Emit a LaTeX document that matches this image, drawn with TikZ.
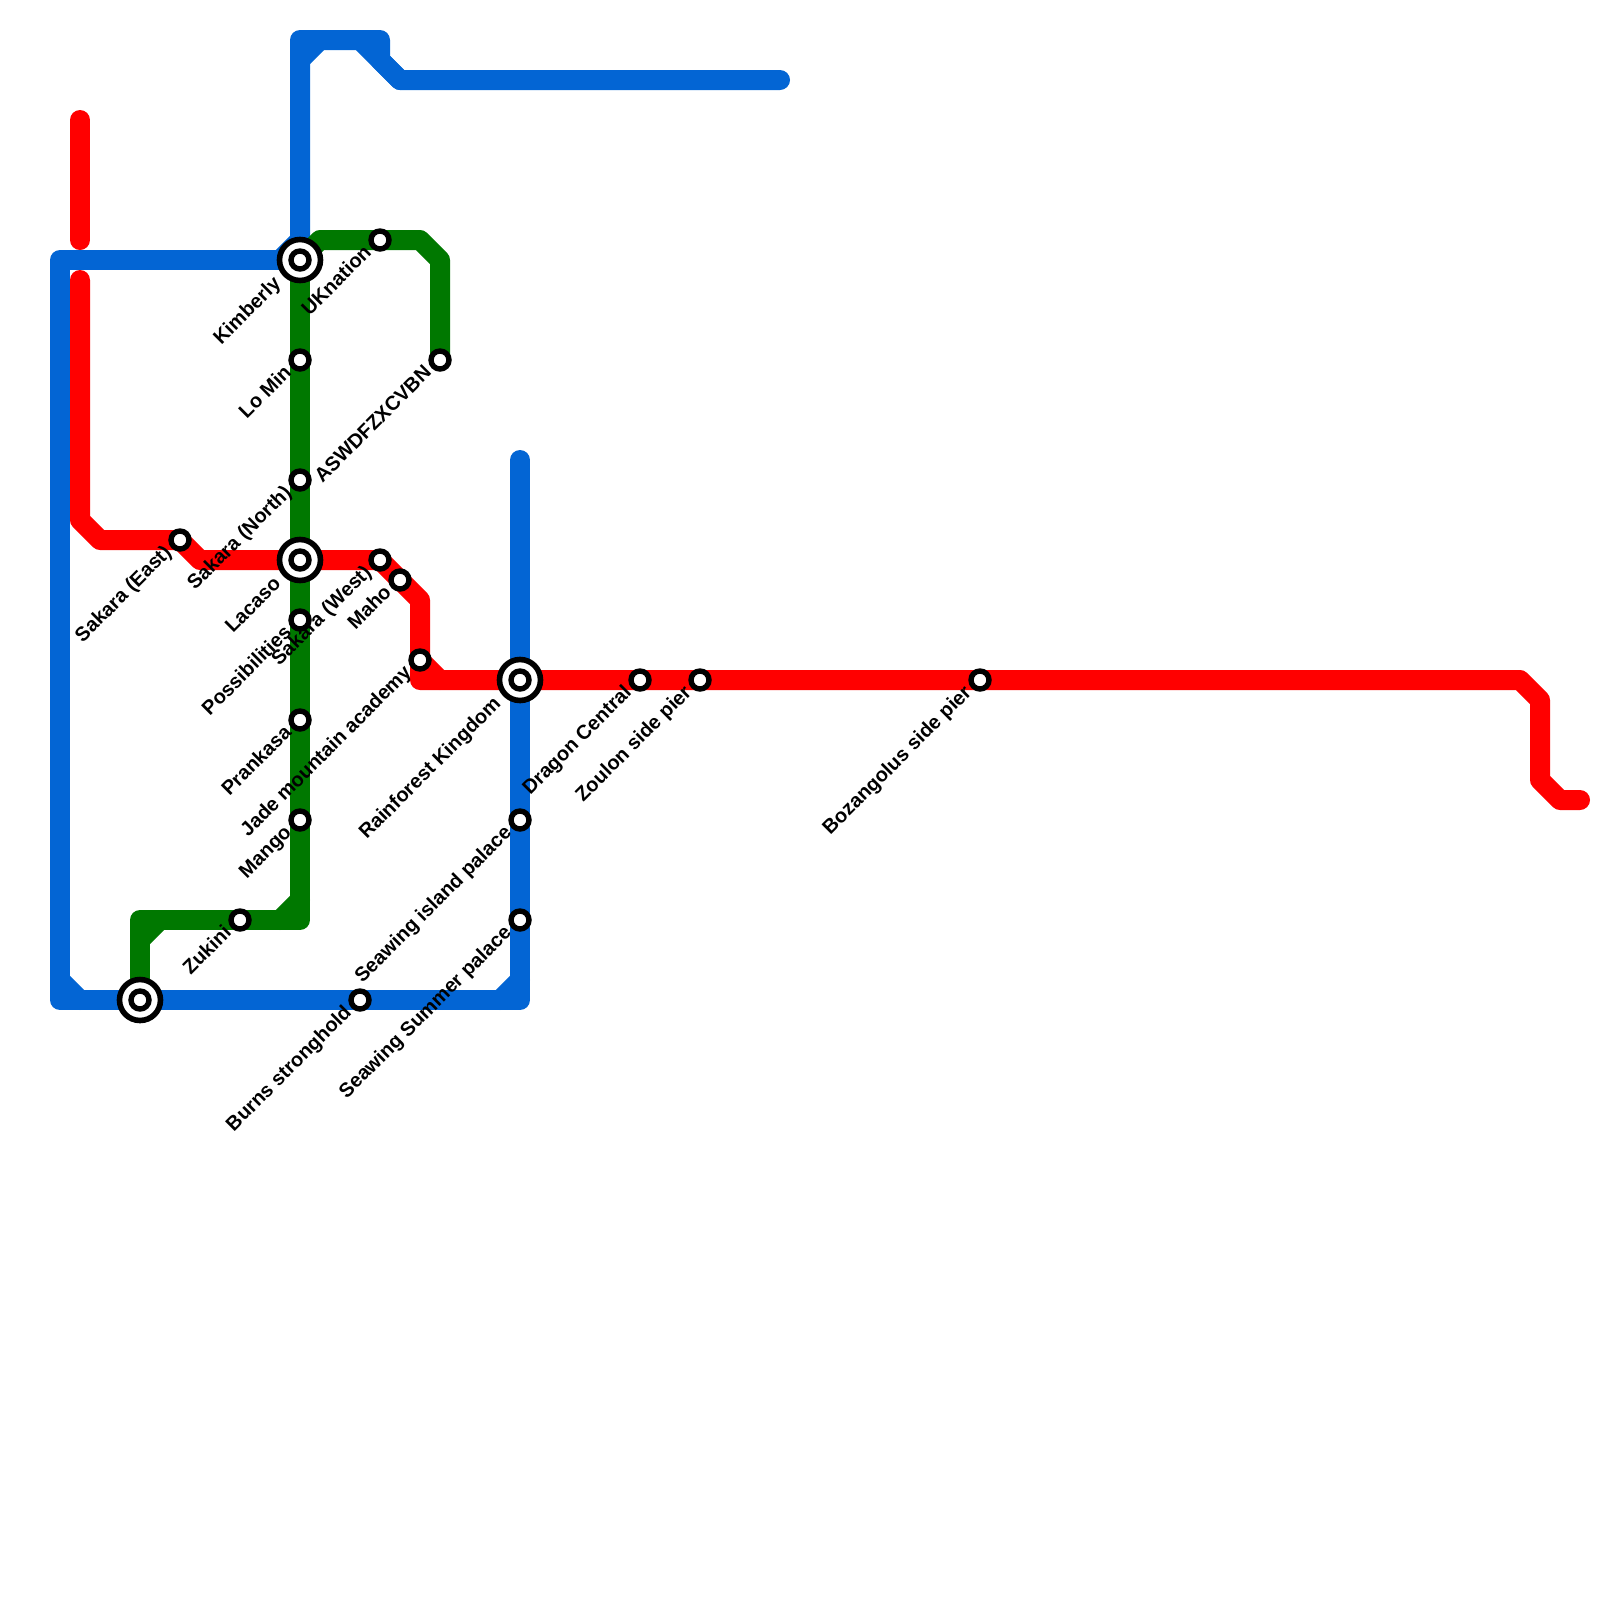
\documentclass[tikz,border=0pt]{standalone}
\usepackage{fontspec}
\setmainfont{Liberation Sans}
\usetikzlibrary{backgrounds}
\definecolor{bluecolor}{HTML}{0365D4}
\definecolor{redcolor}{HTML}{FF0000}
\definecolor{greencolor}{HTML}{007800}
\tikzset{
  stn/.style={circle, draw=black, fill=white, line width=1.35mm, minimum size=4.5mm, inner sep=0pt, outer sep=0pt},
  hub/.style={circle, draw=black, fill=white, line width=1.4mm, minimum size=10.25mm, inner sep=0pt, outer sep=0pt},
  lbl/.style={font=\fontsize{14.2}{17}\bfseries, anchor=base east, rotate=45, inner sep=0pt, xshift=-3.7mm, yshift=-1.07mm},
  hlbl/.style={lbl, xshift=-3.9mm, yshift=-0.13mm},
  track/.style={line width=5mm, line cap=round, line join=round},
  blueline/.style={track, draw=bluecolor},
  redline/.style={track, draw=redcolor},
  greenline/.style={track, draw=greencolor},
}

\begin{document}
\begin{tikzpicture}[x=5mm,y=-5mm]
\useasboundingbox (0,0) rectangle (80,80);
% stations
\node[hub] (kimb) at (15,13) {};
\node[stn] (kimbin) at (kimb) {};
\node[hub] (lacaso) at (15,28) {};
\node[stn] (lacasoin) at (lacaso) {};
\node[hub] (rain) at (26,34) {};
\node[stn] (rainin) at (rain) {};
\node[hub] (south) at (7,50) {};
\node[stn] (southin) at (south) {};
\node[stn] (lomin) at (15,18) {};
\node[stn] (sakn) at (15,24) {};
\node[stn] (poss) at (15,31) {};
\node[stn] (prank) at (15,36) {};
\node[stn] (mango) at (15,41) {};
\node[stn] (zuk) at (12,46) {};
\node[stn] (ukn) at (19,12) {};
\node[stn] (aswd) at (22,18) {};
\node[stn] (sake) at (9,27) {};
\node[stn] (sakw) at (19,28) {};
\node[stn] (maho) at (20,29) {};
\node[stn] (jade) at (21,33) {};
\node[stn] (drag) at (32,34) {};
\node[stn] (zoul) at (35,34) {};
\node[stn] (boz) at (49,34) {};
\node[stn] (seai) at (26,41) {};
\node[stn] (seas) at (26,46) {};
\node[stn] (burn) at (18,50) {};
% labels
\node[hlbl] (kimbl) at (kimb) {Kimberly};
\node[hlbl] (lacasol) at (lacaso) {Lacaso};
\node[hlbl] (rainl) at (rain) {Rainforest Kingdom};
\node[lbl] (lominl) at (lomin) {Lo Min};
\node[lbl] (sakml) at (sakn) {Sakara (North)};
\node[lbl] (possl) at (poss) {Possibilities};
\node[lbl] (prankl) at (prank) {Prankasa};
\node[lbl] (mangol) at (mango) {Mango};
\node[lbl] (zukl) at (zuk) {Zukini};
\node[lbl] (uknl) at (ukn) {UKnation};
\node[lbl] (aswdl) at (aswd) {ASWDFZXCVBN};
\node[lbl] (sakel) at (sake) {Sakara (East)};
\node[lbl] (sakwl) at (sakw) {Sakara (West)};
\node[lbl] (mahol) at (maho) {Maho};
\node[lbl] (jadel) at (jade) {Jade mountain academy};
\node[lbl] (dragl) at (drag) {Dragon Central};
\node[lbl] (zoull) at (zoul) {Zoulon side pier};
\node[lbl] (bozl) at (boz) {Bozangolus side pier};
\node[lbl] (seail) at (seai) {Seawing island palace};
\node[lbl] (seasl) at (seas) {Seawing Summer palace};
\node[lbl] (burnl) at (burn) {Burns stronghold};
% free ends
\coordinate (blueeast) at (39,4);
\coordinate (bluemid) at (26,23);
\coordinate (redtopa) at (4,6);
\coordinate (redtopb) at (4,12);
\coordinate (redstart) at (4,14);
\coordinate (redend) at (79,40);
\begin{scope}[on background layer]
\draw[blueline] (kimb.center) -- (15,2) -- (19,2) -- (19,3) -- (20,4) -- (blueeast);
\draw[blueline] (kimb.center) -- (3,13) -- (3,50) -- (south.center) -- (burn.center) -- (26,50) -- (seas.center) -- (seai.center) -- (rain.center) -- (bluemid);
\draw[blueline] (14,13) -- (15,12);
\draw[blueline] (15,3) -- (16,2);
\draw[blueline] (18,2) -- (20,4);
\draw[blueline] (3,49) -- (4,50);
\draw[blueline] (25,50) -- (26,49);
\draw[redline] (redtopa) -- (redtopb);
\draw[redline] (redstart) -- (4,26) -- (5,27) -- (sake.center) -- (10,28) -- (lacaso.center) -- (sakw.center) -- (maho.center) -- (21,30) -- (jade.center) -- (21,34) -- (rain.center) -- (drag.center) -- (zoul.center) -- (boz.center) -- (76,34) -- (77,35) -- (77,39) -- (78,40) -- (redend);
\draw[redline] (jade.center) -- (22,34);
\draw[greenline] (kimb.center) -- (lomin.center) -- (sakn.center) -- (lacaso.center) -- (poss.center) -- (prank.center) -- (mango.center) -- (15,46) -- (zuk.center) -- (7,46) -- (south.center);
\draw[greenline] (kimb.center) -- (16,12) -- (ukn.center) -- (21,12) -- (22,13) -- (aswd.center);
\draw[greenline] (14,46) -- (15,45);
\draw[greenline] (7,47) -- (8,46);
\end{scope}
\end{tikzpicture}
\end{document}
